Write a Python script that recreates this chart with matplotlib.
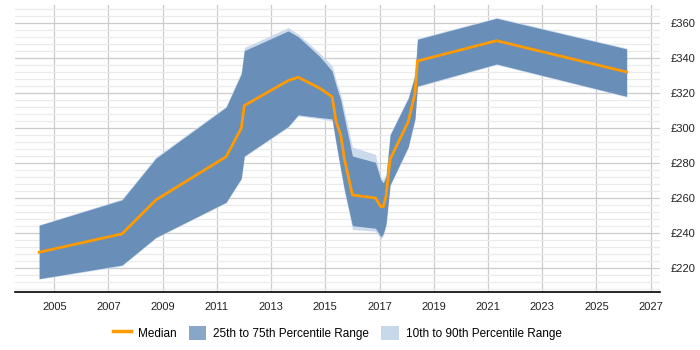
import matplotlib
matplotlib.use("Agg")
import matplotlib.pyplot as plt
from matplotlib.patches import Patch
from matplotlib.lines import Line2D
from matplotlib.ticker import MultipleLocator, FuncFormatter

years = [2004.44, 2007.5, 2008.75, 2011.34, 2011.9, 2012.01, 2013.63, 2014.0,
         2014.8, 2015.25, 2015.4, 2015.57, 2015.7, 2016.0, 2016.85, 2017.05,
         2017.14, 2017.24, 2017.39, 2018.06, 2018.31, 2018.4, 2021.32, 2026.12]
median = [228.8, 239.3, 258.7, 283.4, 299.7, 312.6, 326.9, 328.8,
          322.5, 317.7, 303.4, 295.8, 282.5, 261.5, 259.8, 254.9,
          254.9, 260.6, 281.9, 303.4, 319.6, 338.1, 349.7, 331.8]
p25 = [213.7, 221.5, 237.3, 257.4, 271.1, 283.8, 300.7, 307.3,
       305.8, 305.0, 291.0, 276.0, 265.0, 244.0, 242.5, 237.7,
       239.5, 245.0, 267.3, 289.1, 305.3, 323.8, 336.4, 317.9]
p75 = [244.2, 258.7, 282.5, 311.7, 330.7, 344.0, 355.3, 352.0,
       340.6, 332.4, 324.0, 315.8, 306.0, 283.8, 280.2, 270.1,
       268.5, 272.0, 295.8, 316.8, 330.1, 350.5, 362.5, 345.0]
p10 = [213.4, 221.0, 236.9, 257.0, 270.5, 283.2, 300.2, 306.7,
       305.0, 304.0, 290.0, 274.5, 263.5, 241.8, 240.8, 236.3,
       238.0, 243.5, 266.5, 288.5, 304.5, 323.2, 336.0, 317.5]
p90 = [244.5, 259.3, 283.3, 312.3, 332.0, 345.8, 357.2, 353.5,
       342.5, 335.5, 327.0, 319.0, 310.0, 289.0, 284.7, 271.5,
       270.5, 273.5, 296.5, 317.5, 331.0, 351.0, 363.0, 345.5]

xticks = list(range(2005, 2028, 2))

plt.rcParams['font.family'] = ['Liberation Sans', 'DejaVu Sans']

fig = plt.figure(figsize=(7, 3.5), dpi=100)
ax = fig.add_axes([15/700, 1-292.3/350, (660-15)/700, (292.3-5)/350])

dark = '#5e87b4'
light = '#c7d8ea'
orange = '#ff9a00'

ax.fill_between(years, p10, p90, color=light, lw=0, zorder=2, alpha=0.9)
ax.fill_between(years, p25, p75, color=dark, lw=0, zorder=3, alpha=0.9)
ax.plot(years, median, color=orange, lw=2, zorder=4, solid_joinstyle='miter')

ax.set_xlim(2003.55, 2027.35)
ax.set_ylim(205.9, 370.1)
ax.set_xticks(xticks)
ax.set_xticklabels([str(t) for t in xticks])
ax.yaxis.set_major_locator(MultipleLocator(20))
ax.yaxis.set_minor_locator(MultipleLocator(4))
ax.yaxis.set_major_formatter(FuncFormatter(lambda v, p: '£%d' % v))
ax.yaxis.tick_right()
ax.set_yticks([220, 240, 260, 280, 300, 320, 340, 360])

ax.grid(True, which='major', axis='both', color='#cccccc', lw=0.9, zorder=1)
ax.grid(True, which='minor', axis='y', color='#ebebeb', lw=0.9, zorder=1)
ax.set_axisbelow(True)

for s in ['top', 'left', 'right']:
    ax.spines[s].set_visible(False)
ax.spines['bottom'].set_color('#000000')
ax.spines['bottom'].set_linewidth(1.2)
ax.tick_params(axis='both', which='both', length=0, labelsize=8, colors='#222222')
ax.tick_params(axis='x', pad=7)
ax.tick_params(axis='y', pad=8)

handles = [Line2D([0], [0], color=orange, lw=2.5),
           Patch(facecolor='#88a6c8', edgecolor='none'),
           Patch(facecolor=light, edgecolor='none')]
labels = ['Median', '25th to 75th Percentile Range', '10th to 90th Percentile Range']
fig.legend(handles, labels, loc='center', bbox_to_anchor=(337.5/700, 1-333/350), ncol=3,
           frameon=False, fontsize=8.5, handlelength=1.5, handleheight=1.5,
           columnspacing=1.0, handletextpad=0.6)

fig.savefig('out.png', dpi=100)
